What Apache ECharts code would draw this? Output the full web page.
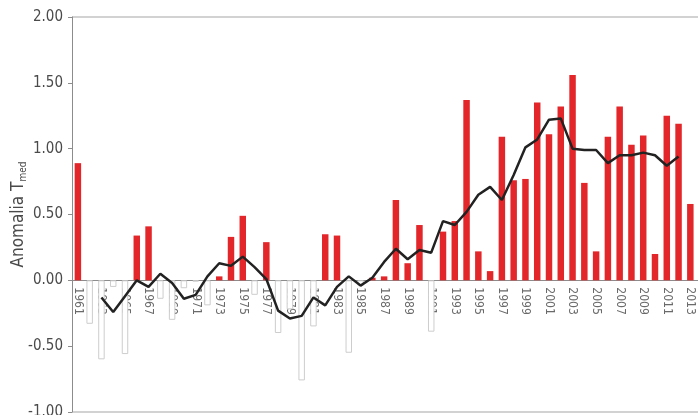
<!DOCTYPE html>
<html>
<head>
<meta charset="utf-8">
<script src="https://cdn.jsdelivr.net/npm/echarts@6/dist/echarts.min.js"></script>
<style>
  html, body { margin: 0; padding: 0; overflow: hidden; background: #fff; }
  #chart { width: 708px; height: 415px; }
</style>
</head>
<body>
<div id="chart"></div>
<script>
// Annual mean temperature anomaly (°C) and its 5-year moving average
const years = [
  '1961','1962','1963','1964','1965','1966','1967','1968','1969','1970',
  '1971','1972','1973','1974','1975','1976','1977','1978','1979','1980',
  '1981','1982','1983','1984','1985','1986','1987','1988','1989','1990',
  '1991','1992','1993','1994','1995','1996','1997','1998','1999','2000',
  '2001','2002','2003','2004','2005','2006','2007','2008','2009','2010',
  '2011','2012','2013','2014'
];

const anomaly = [
   0.89, -0.33, -0.60, -0.05, -0.56,  0.34,  0.41, -0.14, -0.30, -0.06,
  -0.01, -0.19,  0.03,  0.33,  0.49, -0.11,  0.29, -0.40, -0.22, -0.76,
  -0.35,  0.35,  0.34, -0.55, -0.04,  0.02,  0.03,  0.61,  0.13,  0.42,
  -0.39,  0.37,  0.45,  1.37,  0.22,  0.07,  1.09,  0.76,  0.77,  1.35,
   1.11,  1.32,  1.56,  0.74,  0.22,  1.09,  1.32,  1.03,  1.10,  0.20,
   1.25,  1.19,  0.58,  1.51
];

const movingAvg = [
   null,  null, -0.13, -0.24, -0.12,  0.00, -0.05,  0.05, -0.02, -0.14,
  -0.11,  0.03,  0.13,  0.11,  0.18,  0.10,  0.01, -0.23, -0.29, -0.27,
  -0.13, -0.19, -0.05,  0.03, -0.04,  0.02,  0.14,  0.24,  0.16,  0.23,
   0.21,  0.45,  0.42,  0.52,  0.65,  0.71,  0.61,  0.80,  1.01,  1.07,
   1.22,  1.23,  1.00,  0.99,  0.99,  0.89,  0.95,  0.95,  0.97,  0.95,
   0.87,  0.94,  null,  null
];

const yMin = -1.0;
const yMax = 2.0;
const yStep = 0.5;

const FONT = '"Liberation Sans Narrow", "DejaVu Sans Condensed", sans-serif';
const RED = '#e2262a';

const GRID_TOP = 17;
const GRID_BOTTOM = 3;
const CHART_H = 415;

const barData = anomaly.map(v => (
  v >= 0
    ? { value: v, itemStyle: { color: RED } }
    : { value: v, itemStyle: { color: '#ffffff', borderColor: '#cdcdcd', borderWidth: 1 } }
));

// only the outer gridlines (bottom and top) are drawn
const nLines = Math.round((yMax - yMin) / yStep) + 1;
const splitColors = [];
for (let i = 0; i < nLines; i++) {
  splitColors.push(i === 0 || i === nLines - 1 ? '#d2d2d2' : 'rgba(0,0,0,0)');
}

// the category axis sits on the zero line: lift it from the grid's bottom edge
const plotH = CHART_H - GRID_TOP - GRID_BOTTOM;
const zeroLift = plotH * (0 - yMin) / (yMax - yMin);

const chart = echarts.init(document.getElementById('chart'), null, { renderer: 'canvas' });
chart.setOption({
  animation: false,
  backgroundColor: '#ffffff',
  grid: {
    left: 72, right: 0, top: GRID_TOP, bottom: GRID_BOTTOM,
    containLabel: false, outerBoundsMode: 'none'
  },
  xAxis: {
    type: 'category',
    data: years,
    boundaryGap: true,
    position: 'bottom',
    offset: -zeroLift,
    axisLine: { onZero: false, lineStyle: { color: '#8c8c8c', width: 1 } },
    axisTick: { show: false },
    axisLabel: {
      interval: 1,
      rotate: -90,
      margin: 7,
      fontFamily: FONT,
      fontSize: 12,
      color: '#6a6a6a'
    },
    splitLine: { show: false }
  },
  yAxis: {
    type: 'value',
    min: yMin,
    max: yMax,
    interval: yStep,
    name: '{t|Anomalia T}{s|med}',
    nameLocation: 'middle',
    nameGap: 44,
    nameMoveOverlap: false,
    nameRotate: 90,
    nameTextStyle: {
      rich: {
        t: { fontFamily: FONT, fontSize: 17, color: '#4a4a4a' },
        s: { fontFamily: FONT, fontSize: 10, color: '#4a4a4a', padding: [8, 0, 0, 0] }
      }
    },
    axisLine: { show: true, lineStyle: { color: '#8c8c8c', width: 1 } },
    axisTick: { show: true, length: 4, lineStyle: { color: '#8c8c8c' } },
    axisLabel: {
      margin: 9,
      fontFamily: FONT,
      fontSize: 15,
      color: '#4a4a4a',
      formatter: v => v.toFixed(2)
    },
    splitLine: { show: true, lineStyle: { color: splitColors, width: 2 } }
  },
  series: [
    {
      type: 'bar',
      data: barData,
      barWidth: '55%',
      z: 2
    },
    {
      type: 'line',
      data: movingAvg,
      symbol: 'none',
      smooth: false,
      connectNulls: false,
      lineStyle: { color: '#222', width: 2.5 },
      z: 3
    }
  ]
});
</script>
</body>
</html>
